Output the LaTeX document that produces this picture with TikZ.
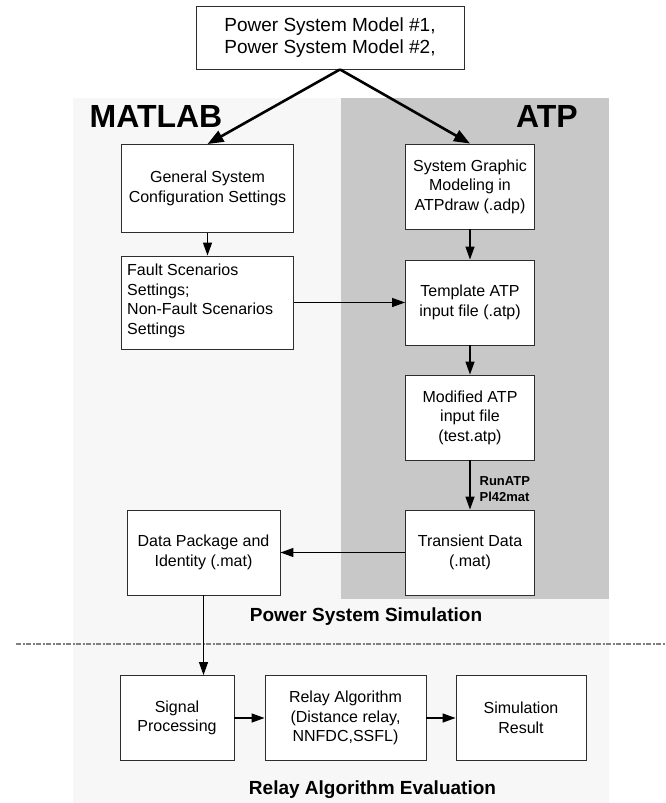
\documentclass[tikz,border=0pt]{standalone}
\usepackage{fontspec}
\setmainfont{Liberation Sans}
\usetikzlibrary{arrows.meta}
\definecolor{lightbg}{RGB}{247,247,247}
\definecolor{atpgray}{RGB}{200,200,200}
\definecolor{boxline}{RGB}{45,45,45}
\definecolor{sepgray}{RGB}{128,128,128}
\begin{document}
\begin{tikzpicture}[x=1pt,y=-1pt,
  blk/.style={draw=boxline,fill=white,line width=0.9pt,inner sep=0pt,align=center,
    font=\fontsize{16}{19.5}\selectfont},
  thinarrow/.style={line width=1.3pt,-{Triangle[length=13pt,width=9pt]}},
  thickarrow/.style={line width=2.6pt,-{Triangle[length=16pt,width=12pt]}},
  biglabel/.style={font=\bfseries\fontsize{32}{36}\selectfont},
  seclabel/.style={font=\bfseries\fontsize{19}{22}\selectfont},
  smalllabel/.style={font=\bfseries\fontsize{13}{16.5}\selectfont,align=left,inner sep=0pt}]
\useasboundingbox (0,0) rectangle (665,803);
\fill[white] (0,0) rectangle (665,803);
% regions
\fill[lightbg] (73,98) rectangle (609,803);
\fill[atpgray] (341,98) rectangle (609,599);
\node[biglabel] (matlab) at (156,116) {MATLAB};
\node[biglabel] (atp) at (547,116) {ATP};
% boxes
\node[blk,minimum width=268pt,minimum height=63pt,font=\fontsize{19}{22}\selectfont] (top) at (330,37.5)
  {Power System Model \#1,\\Power System Model \#2,};
\node[blk,minimum width=172pt,minimum height=88pt] (gen) at (207.5,188.5)
  {General System\\Configuration Settings};
\node[blk,minimum width=129pt,minimum height=85pt] (sysg) at (470,186.5)
  {System Graphic\\Modeling in\\ATPdraw (.adp)};
\node[blk,minimum width=172pt,minimum height=93pt] (fault) at (207.5,302.5) {};
\node[font=\fontsize{16}{19.5}\selectfont,align=left,anchor=west,inner sep=0pt] (faulttext) at (127,301)
  {Fault Scenarios\\Settings;\\Non-Fault Scenarios\\Settings};
\node[blk,minimum width=129pt,minimum height=85pt] (templ) at (470,302.5)
  {Template ATP\\input file (.atp)};
\node[blk,minimum width=129pt,minimum height=85pt] (mod) at (470,417.5)
  {Modified ATP\\input file\\(test.atp)};
\node[blk,minimum width=129pt,minimum height=85pt] (trans) at (470,552.5)
  {Transient Data\\(.mat)};
\node[blk,minimum width=153pt,minimum height=85pt] (data) at (203.5,552.5)
  {Data Package and\\Identity (.mat)};
\node[blk,minimum width=114pt,minimum height=85pt] (sig) at (177,718)
  {Signal\\Processing};
\node[blk,minimum width=161pt,minimum height=85pt] (relay) at (345.5,718)
  {Relay Algorithm\\(Distance relay,\\NNFDC,SSFL)};
\node[blk,minimum width=130pt,minimum height=85pt] (simres) at (521,718)
  {Simulation\\Result};
% section labels
\node[seclabel] (pss) at (366,617) {Power System Simulation};
\node[seclabel] (rae) at (372.5,790) {Relay Algorithm Evaluation};
% separator
\coordinate (sepL) at (16,644);
\coordinate (sepR) at (665,644);
\draw[sepgray,line width=1.6pt,dash pattern=on 5pt off 1.5pt on 2pt off 1.5pt] (sepL) -- (sepR);
% connectors
\coordinate (topout) at ([xshift=10pt]top.south);
\draw[thickarrow] (topout) -- (gen.north);
\draw[thickarrow] (topout) -- (sysg.north);
\draw[thinarrow] (gen.south) -- (fault.north);
\draw[thinarrow] (sysg.south) -- (templ.north);
\draw[thinarrow] (fault.east) -- (templ.west);
\draw[thinarrow] (templ.south) -- (mod.north);
\draw[thinarrow] (mod.south) -- node[smalllabel,anchor=west,xshift=9pt,yshift=-4pt] (runlbl) {RunATP\\Pl42mat} (trans.north);
\draw[thinarrow] (trans.west) -- (data.east);
\draw[thinarrow] (data.south) -- (data.south |- sig.north);
\draw[thinarrow] (sig.east) -- (relay.west);
\draw[thinarrow] (relay.east) -- (simres.west);
\end{tikzpicture}
\end{document}
